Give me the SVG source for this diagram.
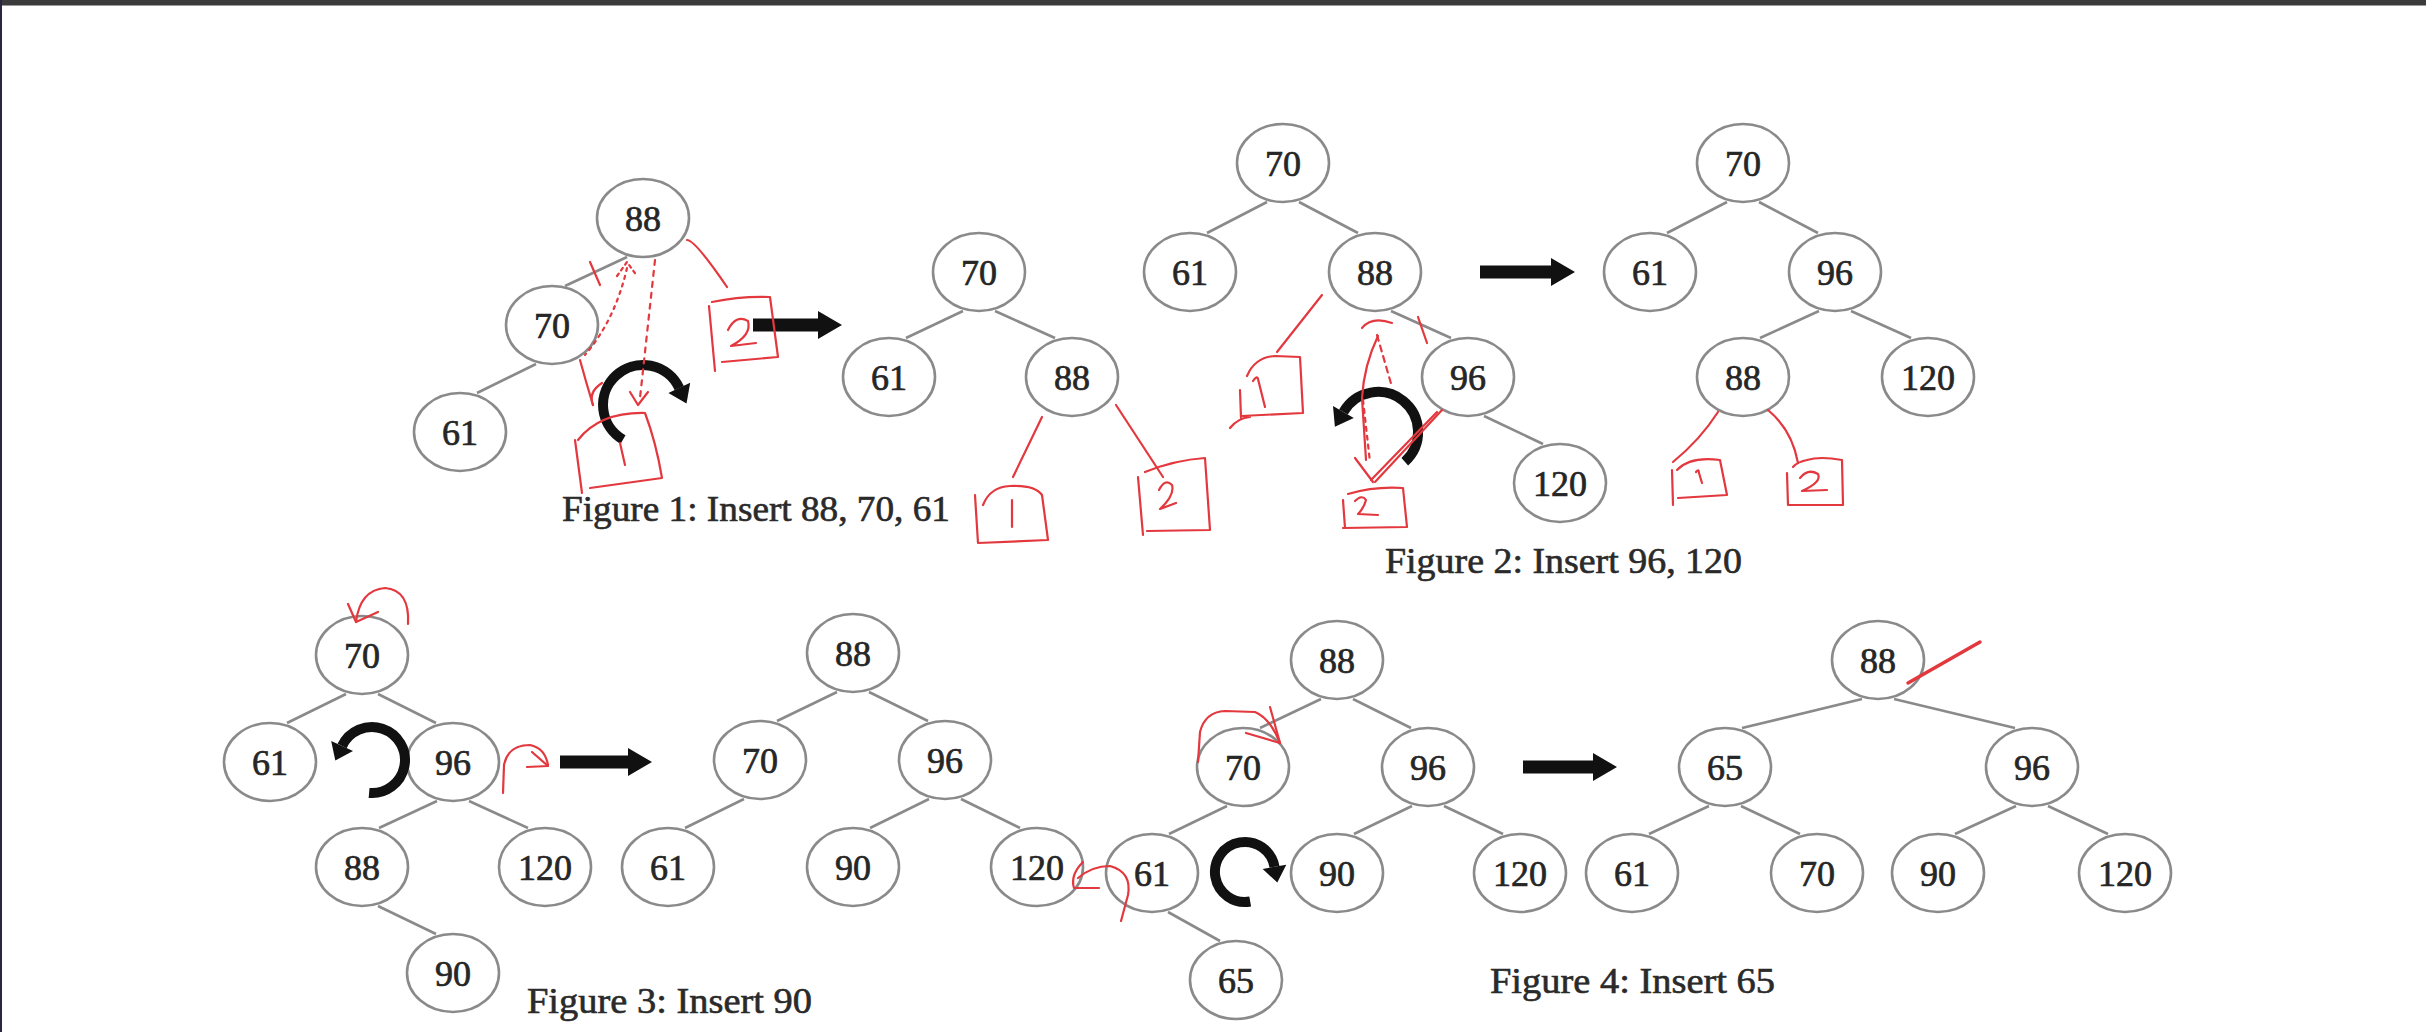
<svg xmlns="http://www.w3.org/2000/svg" width="2426" height="1032" viewBox="0 0 2426 1032">
<style>
.node ellipse{fill:#fff;stroke:#8a8a8a;stroke-width:2.6}
.node text{font-family:"Liberation Serif","Times New Roman",serif;font-size:36px;fill:#262626;stroke:#262626;stroke-width:0.7;text-anchor:middle}
.edge{stroke:#8a8a8a;stroke-width:2.6;fill:none}
.red{stroke:#e2383e;stroke-width:2.2;fill:none;stroke-linecap:round;stroke-linejoin:round}
.dash{stroke-dasharray:5 6}
.rot{stroke:#111;stroke-width:10;fill:none}
.head{fill:#111}
.cap{font-family:"Liberation Serif","Times New Roman",serif;font-size:35px;fill:#2a2a2a;stroke:#2a2a2a;stroke-width:0.6}
</style>
<rect x="0" y="0" width="2426" height="1032" fill="#fff"/>
<rect x="0" y="0" width="2426" height="5" fill="#3b3b3b"/>
<rect x="0" y="5" width="2426" height="1" fill="#9a9a9a"/>
<rect x="0" y="0" width="2" height="1032" fill="#2a2540"/>

<g id="connectors">
<line class="edge" x1="627" y1="257" x2="565" y2="286"/>
<line class="edge" x1="536" y1="364" x2="477" y2="393"/>
<line class="edge" x1="963" y1="311" x2="906" y2="338"/>
<line class="edge" x1="995" y1="311" x2="1055" y2="338"/>
<line class="edge" x1="1267" y1="202" x2="1207" y2="233"/>
<line class="edge" x1="1299" y1="202" x2="1358" y2="233"/>
<line class="edge" x1="1391" y1="311" x2="1451" y2="338"/>
<line class="edge" x1="1484" y1="416" x2="1543" y2="444"/>
<line class="edge" x1="1727" y1="202" x2="1667" y2="233"/>
<line class="edge" x1="1759" y1="202" x2="1818" y2="233"/>
<line class="edge" x1="1819" y1="311" x2="1760" y2="338"/>
<line class="edge" x1="1851" y1="311" x2="1911" y2="338"/>
<line class="edge" x1="346" y1="694" x2="287" y2="723"/>
<line class="edge" x1="378" y1="694" x2="436" y2="723"/>
<line class="edge" x1="437" y1="801" x2="379" y2="828"/>
<line class="edge" x1="469" y1="801" x2="528" y2="828"/>
<line class="edge" x1="378" y1="906" x2="436" y2="934"/>
<line class="edge" x1="837" y1="692" x2="777" y2="721"/>
<line class="edge" x1="869" y1="692" x2="928" y2="721"/>
<line class="edge" x1="744" y1="799" x2="685" y2="828"/>
<line class="edge" x1="929" y1="799" x2="870" y2="828"/>
<line class="edge" x1="961" y1="799" x2="1020" y2="828"/>
<line class="edge" x1="1321" y1="699" x2="1260" y2="728"/>
<line class="edge" x1="1353" y1="699" x2="1411" y2="728"/>
<line class="edge" x1="1227" y1="806" x2="1169" y2="834"/>
<line class="edge" x1="1412" y1="806" x2="1354" y2="834"/>
<line class="edge" x1="1444" y1="806" x2="1503" y2="834"/>
<line class="edge" x1="1168" y1="912" x2="1220" y2="941"/>
<line class="edge" x1="1862" y1="699" x2="1742" y2="728"/>
<line class="edge" x1="1894" y1="699" x2="2015" y2="728"/>
<line class="edge" x1="1709" y1="806" x2="1649" y2="834"/>
<line class="edge" x1="1741" y1="806" x2="1800" y2="834"/>
<line class="edge" x1="2016" y1="806" x2="1955" y2="834"/>
<line class="edge" x1="2048" y1="806" x2="2108" y2="834"/>
</g>

<g id="f1a-88" class="node"><ellipse cx="643" cy="218" rx="46" ry="39"/><text x="643" y="231">88</text></g>
<g id="f1a-70" class="node"><ellipse cx="552" cy="325" rx="46" ry="39"/><text x="552" y="338">70</text></g>
<g id="f1a-61" class="node"><ellipse cx="460" cy="432" rx="46" ry="39"/><text x="460" y="445">61</text></g>
<g id="f1b-70" class="node"><ellipse cx="979" cy="272" rx="46" ry="39"/><text x="979" y="285">70</text></g>
<g id="f1b-61" class="node"><ellipse cx="889" cy="377" rx="46" ry="39"/><text x="889" y="390">61</text></g>
<g id="f1b-88" class="node"><ellipse cx="1072" cy="377" rx="46" ry="39"/><text x="1072" y="390">88</text></g>
<g id="f2a-70" class="node"><ellipse cx="1283" cy="163" rx="46" ry="39"/><text x="1283" y="176">70</text></g>
<g id="f2a-61" class="node"><ellipse cx="1190" cy="272" rx="46" ry="39"/><text x="1190" y="285">61</text></g>
<g id="f2a-88" class="node"><ellipse cx="1375" cy="272" rx="46" ry="39"/><text x="1375" y="285">88</text></g>
<g id="f2a-96" class="node"><ellipse cx="1468" cy="377" rx="46" ry="39"/><text x="1468" y="390">96</text></g>
<g id="f2a-120" class="node"><ellipse cx="1560" cy="483" rx="46" ry="39"/><text x="1560" y="496">120</text></g>
<g id="f2b-70" class="node"><ellipse cx="1743" cy="163" rx="46" ry="39"/><text x="1743" y="176">70</text></g>
<g id="f2b-61" class="node"><ellipse cx="1650" cy="272" rx="46" ry="39"/><text x="1650" y="285">61</text></g>
<g id="f2b-96" class="node"><ellipse cx="1835" cy="272" rx="46" ry="39"/><text x="1835" y="285">96</text></g>
<g id="f2b-88" class="node"><ellipse cx="1743" cy="377" rx="46" ry="39"/><text x="1743" y="390">88</text></g>
<g id="f2b-120" class="node"><ellipse cx="1928" cy="377" rx="46" ry="39"/><text x="1928" y="390">120</text></g>
<g id="f3a-70" class="node"><ellipse cx="362" cy="655" rx="46" ry="39"/><text x="362" y="668">70</text></g>
<g id="f3a-61" class="node"><ellipse cx="270" cy="762" rx="46" ry="39"/><text x="270" y="775">61</text></g>
<g id="f3a-96" class="node"><ellipse cx="453" cy="762" rx="46" ry="39"/><text x="453" y="775">96</text></g>
<g id="f3a-88" class="node"><ellipse cx="362" cy="867" rx="46" ry="39"/><text x="362" y="880">88</text></g>
<g id="f3a-120" class="node"><ellipse cx="545" cy="867" rx="46" ry="39"/><text x="545" y="880">120</text></g>
<g id="f3a-90" class="node"><ellipse cx="453" cy="973" rx="46" ry="39"/><text x="453" y="986">90</text></g>
<g id="f3b-88" class="node"><ellipse cx="853" cy="653" rx="46" ry="39"/><text x="853" y="666">88</text></g>
<g id="f3b-70" class="node"><ellipse cx="760" cy="760" rx="46" ry="39"/><text x="760" y="773">70</text></g>
<g id="f3b-96" class="node"><ellipse cx="945" cy="760" rx="46" ry="39"/><text x="945" y="773">96</text></g>
<g id="f3b-61" class="node"><ellipse cx="668" cy="867" rx="46" ry="39"/><text x="668" y="880">61</text></g>
<g id="f3b-90" class="node"><ellipse cx="853" cy="867" rx="46" ry="39"/><text x="853" y="880">90</text></g>
<g id="f3b-120" class="node"><ellipse cx="1037" cy="867" rx="46" ry="39"/><text x="1037" y="880">120</text></g>
<g id="f4a-88" class="node"><ellipse cx="1337" cy="660" rx="46" ry="39"/><text x="1337" y="673">88</text></g>
<g id="f4a-70" class="node"><ellipse cx="1243" cy="767" rx="46" ry="39"/><text x="1243" y="780">70</text></g>
<g id="f4a-96" class="node"><ellipse cx="1428" cy="767" rx="46" ry="39"/><text x="1428" y="780">96</text></g>
<g id="f4a-61" class="node"><ellipse cx="1152" cy="873" rx="46" ry="39"/><text x="1152" y="886">61</text></g>
<g id="f4a-90" class="node"><ellipse cx="1337" cy="873" rx="46" ry="39"/><text x="1337" y="886">90</text></g>
<g id="f4a-120" class="node"><ellipse cx="1520" cy="873" rx="46" ry="39"/><text x="1520" y="886">120</text></g>
<g id="f4a-65" class="node"><ellipse cx="1236" cy="980" rx="46" ry="39"/><text x="1236" y="993">65</text></g>
<g id="f4b-88" class="node"><ellipse cx="1878" cy="660" rx="46" ry="39"/><text x="1878" y="673">88</text></g>
<g id="f4b-65" class="node"><ellipse cx="1725" cy="767" rx="46" ry="39"/><text x="1725" y="780">65</text></g>
<g id="f4b-96" class="node"><ellipse cx="2032" cy="767" rx="46" ry="39"/><text x="2032" y="780">96</text></g>
<g id="f4b-61" class="node"><ellipse cx="1632" cy="873" rx="46" ry="39"/><text x="1632" y="886">61</text></g>
<g id="f4b-70" class="node"><ellipse cx="1817" cy="873" rx="46" ry="39"/><text x="1817" y="886">70</text></g>
<g id="f4b-90" class="node"><ellipse cx="1938" cy="873" rx="46" ry="39"/><text x="1938" y="886">90</text></g>
<g id="f4b-120" class="node"><ellipse cx="2125" cy="873" rx="46" ry="39"/><text x="2125" y="886">120</text></g>

<g id="captions">
<text class="cap" x="562" y="521" textLength="388" lengthAdjust="spacingAndGlyphs">Figure 1: Insert 88, 70, 61</text>
<text class="cap" x="1385" y="573" textLength="357" lengthAdjust="spacingAndGlyphs">Figure 2: Insert 96, 120</text>
<text class="cap" x="527" y="1013" textLength="285" lengthAdjust="spacingAndGlyphs">Figure 3: Insert 90</text>
<text class="cap" x="1490" y="993" textLength="285" lengthAdjust="spacingAndGlyphs">Figure 4: Insert 65</text>
</g>

<g id="block-arrows" class="head">
<path d="M753 318.5 H818 V311 L842 325 L818 339 V331.5 H753 Z"/>
<path d="M1480 265.5 H1551 V258 L1575 272 L1551 286 V278.5 H1480 Z"/>
<path d="M560 755.5 H628 V748 L652 762 L628 776 V768.5 H560 Z"/>
<path d="M1523 760.5 H1593 V753 L1617 767 L1593 781 V773.5 H1523 Z"/>
</g>

<g id="rotation-arrows">
<path class="rot" d="M623 439.6 A40 40 0 1 1 679.3 388.1"/>
<polygon class="head" points="690.2,382.8 686.5,403.5 668.4,393"/>
<path class="rot" d="M1404.8 461.7 A40 40 0 1 0 1343.4 412"/>
<polygon class="head" points="1333,406 1334.9,426.7 1353.8,418"/>
<path class="rot" d="M369.1 792.9 A33 33 0 1 0 342.1 746"/>
<polygon class="head" points="331.2,740.9 335.3,760.5 353,751"/>
<path class="rot" d="M1250.2 901.5 A30 30 0 1 1 1274.5 866.8"/>
<polygon class="head" points="1286.3,864.7 1277.3,882.6 1262.7,868.9"/>
</g>

<g id="annotations" class="red">
<path d="M590 262 L600 285"/>
<path d="M617 276 L627 262 L637 276" style="stroke-dasharray:3 4"/>
<path d="M627 268 Q615 320 585 355" style="stroke-dasharray:3 5"/>
<path class="dash" d="M655 260 L640 398"/>
<path d="M630 392 L638 405 L648 392"/>
<path d="M687 240 Q695 240 727 287"/>
<path d="M712 302 Q740 296 770 297 L778 357 L722 362 M709 306 L715 371"/>
<path d="M728 330 Q736 314 748 321 Q752 335 731 346 L756 343"/>
<path d="M580 360 Q586 382 593 405"/>
<path d="M602 383 Q588 392 593 405"/>
<path d="M578 440 Q600 412 645 413 Q656 442 662 478 L590 488 M575 440 L582 493"/>
<path d="M620 443 L625 465"/>
<path d="M1042 417 L1013 477"/>
<path d="M975 495 L978 543 L1048 540 L1042 495 Q1035 485 1010 486 Q990 487 983 505"/>
<path d="M1012 500 L1012 527"/>
<path d="M1116 405 L1163 477"/>
<path d="M1138 477 L1143 535 M1145 472 Q1175 460 1205 458 L1210 530 L1147 531"/>
<path d="M1159 490 Q1165 478 1172 485 Q1175 495 1160 509 L1176 503"/>
<path d="M1322 295 L1277 352"/>
<path d="M1247 376 Q1255 357 1275 356 L1300 357 L1303 413 L1241 416 M1240 390 L1241 418 M1230 428 Q1238 418 1250 417"/>
<path d="M1253 381 Q1257 375 1258 379 L1265 407"/>
<path d="M1362 328 Q1372 316 1392 323"/>
<path d="M1378 336 Q1364 365 1362 398 L1366 460"/>
<path d="M1377 335 L1392 387" style="stroke-dasharray:6 5"/>
<path d="M1363 400 L1370 462" style="stroke-dasharray:4 5"/>
<path d="M1355 458 L1373 482"/>
<path d="M1442 410 L1375 482 M1437 412 L1371 480"/>
<path d="M1418 317 L1427 343"/>
<path d="M1343 500 L1345 528 M1348 494 Q1375 486 1403 488 L1407 527 L1343 528"/>
<path d="M1355 501 Q1362 494 1366 500 Q1364 508 1358 514 L1378 515"/>
<path d="M1718 412 Q1700 440 1673 462"/>
<path d="M1672 470 L1673 505 M1677 470 Q1690 456 1720 460 L1727 495 L1678 498"/>
<path d="M1696 472 Q1699 468 1699 473 L1702 483"/>
<path d="M1768 410 Q1792 430 1798 463"/>
<path d="M1787 473 L1788 505 L1843 505 L1842 460 Q1820 456 1807 460 Q1797 462 1793 467"/>
<path d="M1800 478 Q1808 468 1818 474 Q1822 482 1802 491 L1827 490"/>
<path d="M408 624 Q410 590 385 588 Q360 590 356 622"/>
<path d="M348 604 L356 622 L378 612"/>
<path d="M503 793 L504 765 Q508 745 530 745 Q545 748 548 765"/>
<path d="M532 752 L548 766 L527 767"/>
<path d="M1083 862 Q1070 875 1074 888 L1099 888"/>
<path d="M1078 878 Q1092 866 1110 866 Q1132 872 1128 895 L1121 921"/>
<path d="M1198 762 L1200 732 Q1205 712 1225 711 L1255 712 Q1270 718 1280 743"/>
<path d="M1270 707 L1280 743 L1246 733"/>
<path d="M1908 683 L1980 642" style="stroke-width:3.5"/>
</g>
</svg>
